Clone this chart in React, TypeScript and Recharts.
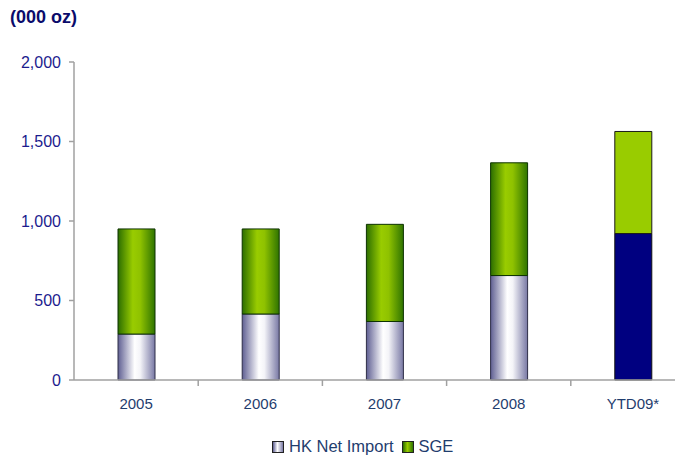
import { Bar, BarChart, Cell, XAxis, YAxis } from "recharts";

// Gold demand, thousand ounces
const years = ["2005", "2006", "2007", "2008", "YTD09*"];
const hkNetImport = [289, 415, 368, 657, 921];
const sge = [661, 535, 611, 709, 642];
const yTicks = [0, 500, 1000, 1500, 2000];

const data = years.map((year, i) => ({ year, hk: hkNetImport[i], sge: sge[i] }));

const CHART_W = 687;
const Y_AXIS_W = 66;
const BAND = (CHART_W - Y_AXIS_W) / years.length;

const XTick = (props: any) => {
  const { x, y, payload } = props;
  const right = x + BAND / 2;
  return (
    <g>
      <line x1={right} y1={y - 8} x2={right} y2={y - 2} stroke="#a0a0a0" strokeWidth={1.5} />
      <text
        x={x}
        y={y + 21}
        textAnchor="middle"
        fill="#1f3d6e"
        fontSize={15}
        fontFamily="'Liberation Sans', Arial, sans-serif"
      >
        {payload.value}
      </text>
    </g>
  );
};

export default function App() {
  return (
    <div
      style={{
        position: "relative",
        width: 675,
        height: 450,
        overflow: "hidden",
        fontFamily: "'Liberation Sans', Arial, sans-serif",
      }}
    >
      <div
        style={{
          position: "absolute",
          left: 2,
          top: -1,
          fontSize: 18,
          fontWeight: "bold",
          color: "#0b0b6b",
        }}
      >
        (000 oz)
      </div>
      <BarChart
        width={CHART_W}
        height={450}
        data={data}
        margin={{ top: 54, right: 0, left: 0, bottom: 48 }}
        style={{ fontFamily: "'Liberation Sans', Arial, sans-serif" }}
      >
        <defs>
          <linearGradient id="hkGrad" x1="0" y1="0" x2="1" y2="0">
            <stop offset="0%" stopColor="#5f5f92" />
            <stop offset="45%" stopColor="#ffffff" />
            <stop offset="60%" stopColor="#f4f4f8" />
            <stop offset="100%" stopColor="#7878a4" />
          </linearGradient>
          <linearGradient id="sgeGrad" x1="0" y1="0" x2="1" y2="0">
            <stop offset="0%" stopColor="#2c6e00" />
            <stop offset="40%" stopColor="#99cc00" />
            <stop offset="60%" stopColor="#8fc200" />
            <stop offset="100%" stopColor="#2f7400" />
          </linearGradient>
        </defs>
        <XAxis
          dataKey="year"
          height={30}
          axisLine={{ stroke: "#a0a0a0", strokeWidth: 1.5 }}
          tickLine={false}
          tick={<XTick />}
          interval={0}
        />
        <YAxis
          width={Y_AXIS_W}
          domain={[0, 2000]}
          ticks={yTicks}
          tickFormatter={(v: number) => v.toLocaleString("en-US")}
          axisLine={{ stroke: "#a0a0a0", strokeWidth: 1.5 }}
          tickLine={{ stroke: "#a0a0a0", strokeWidth: 1.5 }}
          tickSize={5}
          tickMargin={8}
          tick={{ fill: "#1c1c8e", fontSize: 16 }}
        />
        <Bar dataKey="hk" stackId="a" barSize={37} fill="url(#hkGrad)" stroke="#2e2e48" strokeWidth={1} isAnimationActive={false}>
          {data.map((d, i) => (
            <Cell key={d.year} fill={i === data.length - 1 ? "#000080" : "url(#hkGrad)"} stroke={i === data.length - 1 ? "#111" : "#2e2e48"} />
          ))}
        </Bar>
        <Bar dataKey="sge" stackId="a" barSize={37} fill="url(#sgeGrad)" stroke="#0d3300" strokeWidth={1} isAnimationActive={false}>
          {data.map((d, i) => (
            <Cell key={d.year} fill={i === data.length - 1 ? "#99cc00" : "url(#sgeGrad)"} stroke={i === data.length - 1 ? "#1a1a1a" : "#0d3300"} />
          ))}
        </Bar>
      </BarChart>
      <div
        style={{
          position: "absolute",
          top: 429,
          left: 264,
          display: "flex",
          alignItems: "center",
          gap: 5,
          fontSize: 16.5,
          color: "#1f3d6e",
          whiteSpace: "nowrap",
        }}
      >
        <span style={{ display: "inline-block", width: 10, height: 10, border: "1px solid #222", background: "linear-gradient(to right, #5f5f92, #ffffff 45%, #7878a4)" }} />
        <span style={{ marginRight: 3 }}>HK Net Import</span>
        <span style={{ display: "inline-block", width: 10, height: 10, border: "1px solid #222", background: "linear-gradient(to right, #2c6e00, #99cc00 45%, #2f7400)" }} />
        <span>SGE</span>
      </div>
    </div>
  );
}
